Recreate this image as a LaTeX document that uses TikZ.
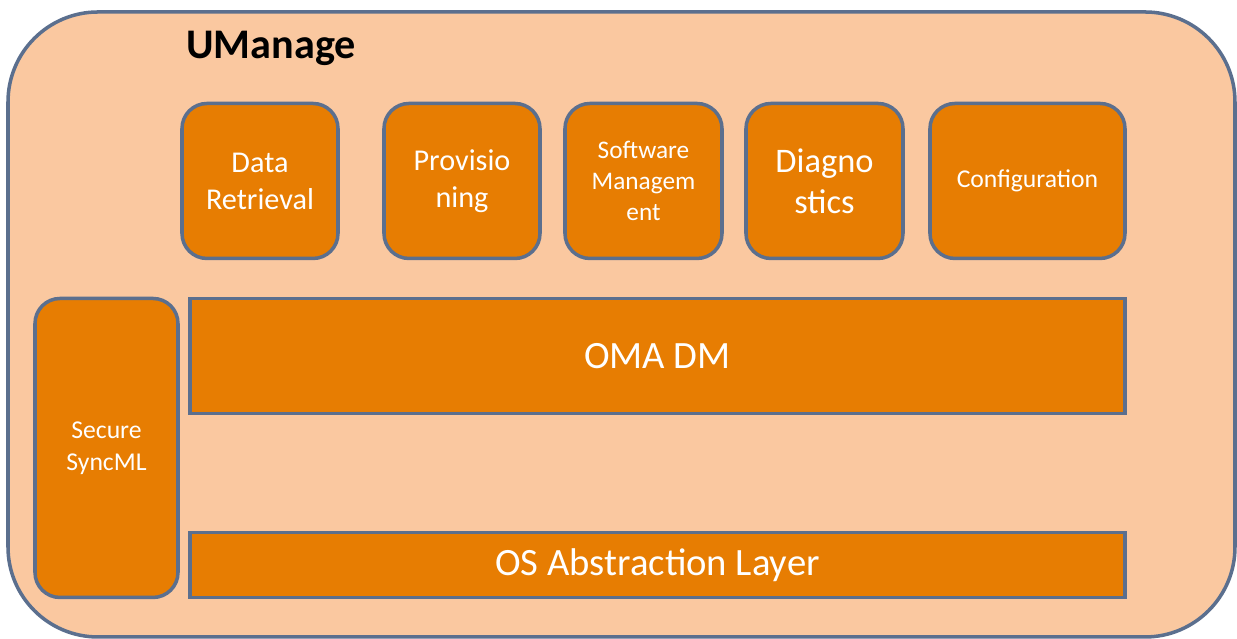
\documentclass[tikz,border=0pt]{standalone}
\usepackage{fontspec}
\setmainfont{Carlito}
\definecolor{peach}{HTML}{FAC8A0}
\definecolor{boxorange}{HTML}{E77D02}
\definecolor{slate}{HTML}{5B6F8E}
\tikzset{
    module/.style={draw=slate, line width=1pt, fill=boxorange, text=white,
        rounded corners=0.25cm, align=center, inner sep=1pt},
    layer/.style={draw=slate, line width=1pt, fill=boxorange, text=white,
        align=center, inner sep=1pt}
}
\begin{document}
\begin{tikzpicture}
        \useasboundingbox (0,0) rectangle (12.37,6.39);
        \fill[white] (0,0) rectangle (12.37,6.39);

        \draw[slate, line width=1pt, fill=peach, rounded corners=0.9cm] (0.08,0.02) rectangle (12.35,6.27);
        \node[anchor=west, font=\bfseries\fontsize{12}{14}\selectfont] (title) at (1.74,5.91) {UManage};

        \node[module, minimum width=1.56cm, minimum height=1.55cm, font=\fontsize{8.6}{10.5}\selectfont] (data) at (2.60,4.58) {Data\\Retrieval};
        \node[module, minimum width=1.56cm, minimum height=1.55cm, font=\fontsize{8.6}{10.5}\selectfont] (prov) at (4.62,4.58) {Provisio\\ning};
        \node[module, minimum width=1.57cm, minimum height=1.55cm, font=\fontsize{7.2}{8.8}\selectfont] (soft) at (6.435,4.58) {Software\\Managem\\ent};
        \node[module, minimum width=1.57cm, minimum height=1.55cm, font=\fontsize{9.8}{11.7}\selectfont] (diag) at (8.245,4.58) {Diagno\\stics};
        \node[module, minimum width=1.95cm, minimum height=1.55cm, font=\fontsize{7.3}{9}\selectfont] (conf) at (10.275,4.58) {Configuration};

        \node[module, minimum width=1.43cm, minimum height=2.99cm, font=\fontsize{7.3}{9}\selectfont] (sync) at (1.065,1.91) {Secure\\SyncML};

        \node[layer, minimum width=9.35cm, minimum height=1.15cm, font=\fontsize{11}{13}\selectfont] (omadm) at (6.575,2.83) {OMA DM};
        \node[layer, minimum width=9.35cm, minimum height=0.65cm, font=\fontsize{11}{13}\selectfont] (osal) at (6.575,0.74) {OS Abstraction Layer};
    \end{tikzpicture}
\end{document}
